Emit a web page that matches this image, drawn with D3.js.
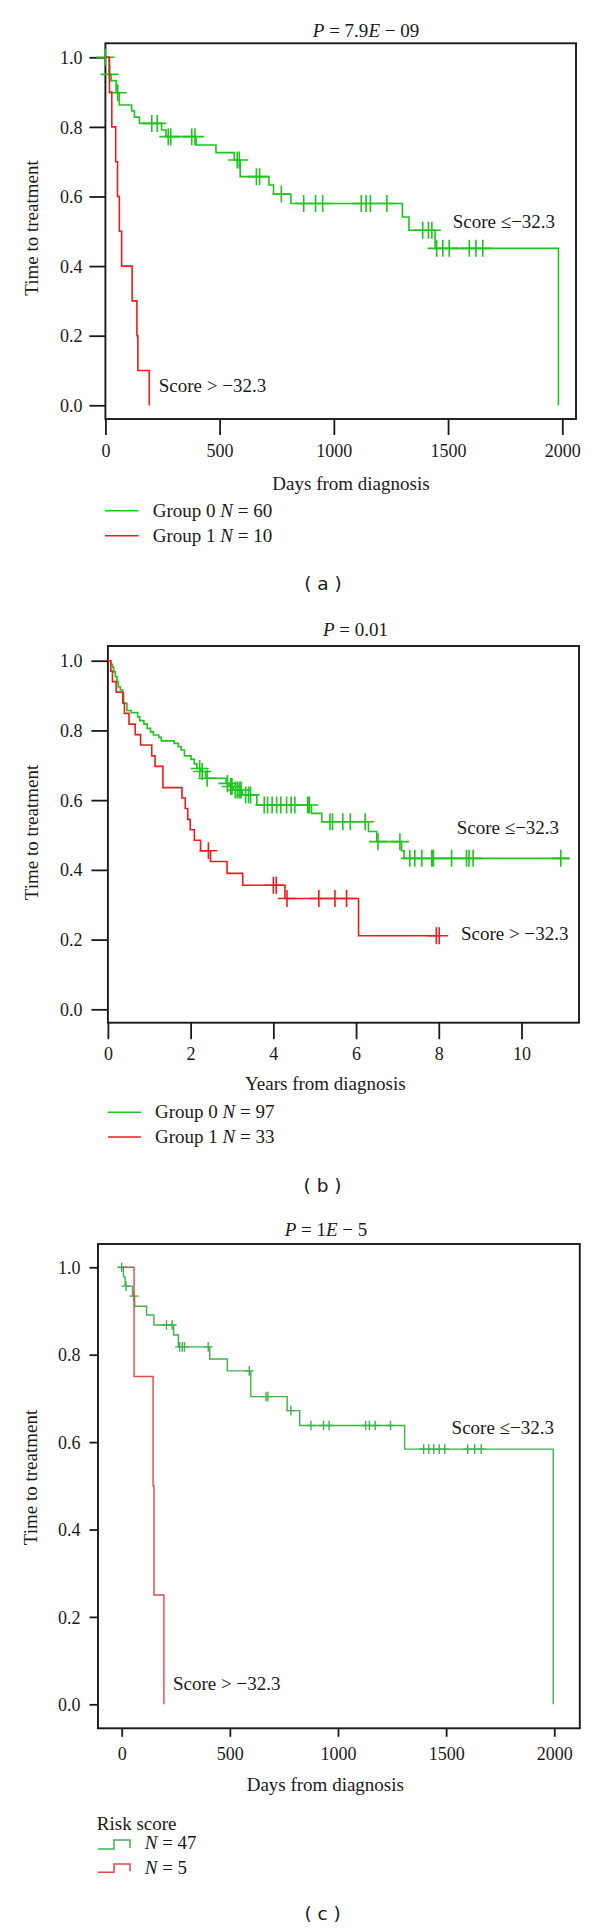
<!DOCTYPE html>
<html><head><meta charset="utf-8">
<script src="https://cdn.jsdelivr.net/npm/d3@7"></script>
<style>body{margin:0;background:#fff}svg{display:block}</style>
</head><body>
<svg id="chart" width="600" height="1930"></svg>
<script>
// ---------------- DATA ----------------
const yTickValues = [0, 0.2, 0.4, 0.6, 0.8, 1.0];
const yTickLabels = ["0.0", "0.2", "0.4", "0.6", "0.8", "1.0"];

// Panel (a)
const aTitle = ["P", " = 7.9", "E", " \u2212 09"];
const aXTicks = [0, 500, 1000, 1500, 2000];
const aXLabel = "Days from diagnosis";
const aGreenTimes = [0, 16, 25, 47, 61, 115, 127, 149, 246, 265, 397, 484, 564, 590, 716, 736, 812, 1300, 1329, 1443, 1983];
const aGreenSurv  = [1, 0.951, 0.933, 0.898, 0.863, 0.846, 0.828, 0.81, 0.791, 0.772, 0.748, 0.726, 0.705, 0.657, 0.633, 0.607, 0.58, 0.541, 0.503, 0.451, 0];
const aGreenCensor = [0, 18, 54, 203, 227, 275, 286, 378, 392, 577, 586, 661, 675, 770, 868, 920, 951, 1120, 1141, 1160, 1232, 1389, 1414, 1429, 1450, 1477, 1505, 1593, 1622, 1652];
const aRedTimes = [0, 18, 28, 45, 53, 61, 71, 117, 138, 142, 192];
const aRedSurv  = [1, 0.9, 0.8, 0.7, 0.6, 0.5, 0.4, 0.3, 0.2, 0.1, 0];
const aLegend = [["Group 0 ", "N", " = 60"], ["Group 1 ", "N", " = 10"]];

// Panel (b)
const bTitle = ["P", " = 0.01"];
const bXTicks = [0, 2, 4, 6, 8, 10];
const bXLabel = "Years from diagnosis";
const bGreenTimes = [0, 0.07, 0.11, 0.14, 0.18, 0.22, 0.25, 0.30, 0.36, 0.38, 0.46, 0.56, 0.72, 0.77, 0.87, 0.95, 1.03, 1.10, 1.23, 1.29, 1.60, 1.70, 1.77, 1.85, 2.01, 2.09, 2.15, 2.25, 2.36, 2.86, 2.93, 3.03, 3.25, 3.60, 4.92, 5.17, 6.30, 6.50, 7.10, 7.16, 11.15];
const bGreenSurv  = [1, 0.990, 0.981, 0.968, 0.954, 0.940, 0.925, 0.916, 0.906, 0.878, 0.857, 0.851, 0.839, 0.828, 0.818, 0.806, 0.796, 0.787, 0.780, 0.770, 0.763, 0.753, 0.744, 0.727, 0.717, 0.704, 0.691, 0.682, 0.663, 0.648, 0.639, 0.629, 0.615, 0.586, 0.562, 0.538, 0.510, 0.481, 0.455, 0.433, 0.433];
const bGreenCensor = [2.22, 2.28, 2.40, 2.89, 2.97, 3.00, 3.08, 3.13, 3.18, 3.22, 3.33, 3.40, 3.45, 3.78, 3.86, 3.97, 4.08, 4.18, 4.32, 4.43, 4.52, 4.83, 4.87, 5.37, 5.43, 5.68, 5.86, 6.22, 6.53, 7.06, 7.30, 7.42, 7.59, 7.83, 7.87, 8.31, 8.67, 8.73, 8.83, 10.95];
const bRedTimes = [0, 0.07, 0.11, 0.2, 0.36, 0.4, 0.51, 0.66, 0.79, 1.06, 1.14, 1.33, 1.79, 1.87, 1.93, 1.99, 2.09, 2.24, 2.48, 2.88, 3.26, 4.28, 6.06, 8.02];
const bRedSurv  = [1, 0.97, 0.94, 0.91, 0.879, 0.849, 0.818, 0.788, 0.758, 0.727, 0.697, 0.636, 0.606, 0.576, 0.545, 0.515, 0.485, 0.455, 0.424, 0.39, 0.356, 0.318, 0.211, 0.211];
const bRedCensor = [2.43, 4.0, 4.07, 4.33, 5.1, 5.49, 5.77, 7.94, 8.01];
const bLegend = [["Group 0 ", "N", " = 97"], ["Group 1 ", "N", " = 33"]];

// Panel (c)
const cTitle = ["P", " = 1", "E", " \u2212 5"];
const cXTicks = [0, 500, 1000, 1500, 2000];
const cXLabel = "Days from diagnosis";
const cGreenTimes = [0, 8, 16, 50, 60, 115, 149, 240, 262, 407, 488, 597, 765, 823, 1308, 1995];
const cGreenSurv  = [1, 0.978, 0.957, 0.934, 0.911, 0.891, 0.868, 0.845, 0.818, 0.79, 0.763, 0.704, 0.672, 0.638, 0.584, 0];
const cGreenCensor = [0, 20, 57, 207, 233, 268, 280, 290, 400, 590, 667, 676, 782, 875, 933, 959, 1128, 1145, 1172, 1243, 1396, 1420, 1443, 1468, 1494, 1600, 1632, 1662];
const cRedTimes = [0, 57, 145, 149, 195];
const cRedSurv  = [1, 0.75, 0.5, 0.25, 0];
const cLegendTitle = "Risk score";
const cLegend = [["N", " = 47"], ["N", " = 5"]];

const groupLabels = ["Score \u2264\u221232.3", "Score > \u221232.3"];
const yLabel = "Time to treatment";

// ---------------- LAYOUT / STYLE ----------------
const SERIF = "'Liberation Serif','Times New Roman',serif";
const SANS = "'DejaVu Sans',sans-serif";
const INK = "#1a1a1a";

const svg = d3.select("#chart");

function kmAt(times, surv, t) {
  let v = surv[0];
  for (let i = 0; i < times.length; i++) if (times[i] <= t) v = surv[i];
  return v;
}

function richText(g, parts, attrs) {
  const t = g.append("text");
  Object.entries(attrs).forEach(([k, v]) => t.attr(k, v));
  parts.forEach(p => {
    const isItalic = (p === "P" || p === "E" || p === "N");
    t.append("tspan").text(p).attr("font-style", isItalic ? "italic" : "normal");
  });
  return t;
}

function panel(cfg) {
  const g = svg.append("g");
  const x = d3.scaleLinear().domain(cfg.xDomain).range([cfg.box.l, cfg.box.r]);
  const y = d3.scaleLinear().domain(cfg.yDomain).range([cfg.box.b, cfg.box.t]);

  const xAxis = d3.axisBottom(x).tickValues(cfg.xTicks).tickSize(cfg.tick).tickFormat(d3.format("d"));
  const gx = g.append("g").attr("transform", `translate(0,${cfg.box.b})`).call(xAxis);
  gx.select(".domain").remove();
  gx.selectAll(".tick line").attr("stroke", INK).attr("stroke-width", 1.8);
  gx.selectAll(".tick text").attr("font-family", SERIF).attr("font-size", cfg.fsTick).attr("fill", INK)
    .attr("y", cfg.xLabBase - cfg.box.b).attr("dy", null);

  const yAxis = d3.axisLeft(y).tickValues(yTickValues).tickSize(cfg.tick).tickFormat((d, i) => yTickLabels[i]);
  const gy = g.append("g").attr("transform", `translate(${cfg.box.l},0)`).call(yAxis);
  gy.select(".domain").remove();
  gy.selectAll(".tick line").attr("stroke", INK).attr("stroke-width", 1.8);
  gy.selectAll(".tick text").attr("font-family", SERIF).attr("font-size", cfg.fsTick).attr("fill", INK)
    .attr("x", cfg.yLabRight - cfg.box.l).attr("dy", "0.34em");

  g.append("rect").attr("x", cfg.box.l).attr("y", cfg.box.t)
    .attr("width", cfg.box.r - cfg.box.l).attr("height", cfg.box.b - cfg.box.t)
    .attr("fill", "none").attr("stroke", INK).attr("stroke-width", 1.9);

  const line = d3.line().x(d => x(d[0])).y(d => y(d[1])).curve(d3.curveStepAfter);

  cfg.series.forEach(s => {
    const pts = s.times.map((t, i) => [t, s.surv[i]]);
    g.append("path").attr("d", line(pts)).attr("fill", "none")
      .attr("stroke", s.color).attr("stroke-width", cfg.lw);
    const cens = s.censor.map(t => [t, kmAt(s.times, s.surv, t)]);
    g.append("path").attr("fill", "none").attr("stroke", s.color).attr("stroke-width", cfg.lw)
      .attr("d", cens.map(([t, v]) => {
        const px = x(t), py = y(v);
        return `M${px - cfg.ch},${py}H${px + cfg.ch}M${px},${py - cfg.cv}V${py + cfg.cv}`;
      }).join(""));
  });

  richText(g, cfg.title, {x: cfg.titleX, y: cfg.titleY, "text-anchor": "middle",
    "font-family": SERIF, "font-size": cfg.fsLab, fill: INK});
  g.append("text").text(cfg.xLabel).attr("x", cfg.xTitleX).attr("y", cfg.xTitleY)
    .attr("text-anchor", "middle").attr("font-family", SERIF).attr("font-size", cfg.fsLab).attr("fill", INK);
  g.append("text").text(yLabel).attr("transform", `translate(${cfg.yTitleX},${cfg.yTitleY}) rotate(-90)`)
    .attr("text-anchor", "middle").attr("dominant-baseline", "central")
    .attr("font-family", SERIF).attr("font-size", cfg.fsLab).attr("fill", INK);
  cfg.annot.forEach((a, i) => {
    g.append("text").text(groupLabels[i]).attr("x", a[0]).attr("y", a[1])
      .attr("font-family", SERIF).attr("font-size", cfg.fsLab).attr("fill", INK);
  });
  g.append("text").text(cfg.letter).attr("x", cfg.letterX).attr("y", cfg.letterY)
    .attr("text-anchor", "middle").attr("font-family", SANS).attr("font-size", 18.5).attr("fill", INK)
    .attr("xml:space", "preserve").style("white-space", "pre");
  return g;
}

function lineLegend(g, items, colors, lx0, lx1, ys, tx, dyText, fs) {
  items.forEach((it, i) => {
    g.append("line").attr("x1", lx0).attr("x2", lx1).attr("y1", ys[i]).attr("y2", ys[i])
      .attr("stroke", colors[i]).attr("stroke-width", 1.6);
    richText(g, it, {x: tx, y: ys[i] + dyText, "font-family": SERIF, "font-size": fs, fill: INK});
  });
}

const GREEN = "#1fc41f", RED = "#ee1c1c";
const GREEN_C = "#3fb24e", RED_C = "#e04a4a";

const pa = panel({
  box: {l: 105.4, r: 576, t: 43.3, b: 419},
  xDomain: [0, 2060], yDomain: [-0.0394, 1.0402],
  xTicks: aXTicks, tick: 16, xLabBase: 457, yLabRight: 82.5,
  fsTick: 18, fsLab: 19, lw: 1.6, ch: 9, cv: 8.5,
  series: [
    {times: aGreenTimes, surv: aGreenSurv, censor: aGreenCensor, color: GREEN},
    {times: aRedTimes, surv: aRedSurv, censor: [], color: RED}
  ],
  title: aTitle, titleX: 366, titleY: 36.5,
  xLabel: aXLabel, xTitleX: 351, xTitleY: 490,
  yTitleX: 31, yTitleY: 228,
  annot: [[452.7, 228.3], [158.8, 391.7]],
  letter: "( a )", letterX: 323, letterY: 590
});
lineLegend(pa, aLegend, [GREEN, RED], 105, 138.5, [510.7, 535.7], 152.7, 6, 19);

const pb = panel({
  box: {l: 107.9, r: 579, t: 646, b: 1022.7},
  xDomain: [0, 11.39], yDomain: [-0.0384, 1.0422],
  xTicks: bXTicks, tick: 16.5, xLabBase: 1060, yLabRight: 82.5,
  fsTick: 18, fsLab: 19, lw: 1.6, ch: 9, cv: 8.5,
  series: [
    {times: bGreenTimes, surv: bGreenSurv, censor: bGreenCensor, color: GREEN},
    {times: bRedTimes, surv: bRedSurv, censor: bRedCensor, color: RED}
  ],
  title: bTitle, titleX: 355.5, titleY: 636,
  xLabel: bXLabel, xTitleX: 325.3, xTitleY: 1090,
  yTitleX: 31, yTitleY: 832.5,
  annot: [[456.7, 834], [461, 940]],
  letter: "( b )", letterX: 322.6, letterY: 1192
});
lineLegend(pb, bLegend, [GREEN, RED], 108, 141, [1112.3, 1137], 155, 5.7, 19);

const pc = panel({
  box: {l: 98, r: 579.8, t: 1244, b: 1728.3},
  xDomain: [-109.6, 2118], yDomain: [-0.0549, 1.0533],
  xTicks: cXTicks, tick: 8.5, xLabBase: 1760, yLabRight: 80.4,
  fsTick: 18, fsLab: 19, lw: 1.4, ch: 4.5, cv: 4.8,
  series: [
    {times: cGreenTimes, surv: cGreenSurv, censor: cGreenCensor, color: GREEN_C},
    {times: cRedTimes, surv: cRedSurv, censor: [], color: RED_C}
  ],
  title: cTitle, titleX: 326, titleY: 1236,
  xLabel: cXLabel, xTitleX: 325.3, xTitleY: 1791,
  yTitleX: 30.6, yTitleY: 1477.5,
  annot: [[451.6, 1434.3], [173, 1690]],
  letter: "( c )", letterX: 322.6, letterY: 1920
});
pc.append("text").text(cLegendTitle).attr("x", 96.8).attr("y", 1830)
  .attr("font-family", SERIF).attr("font-size", 19).attr("fill", INK);
[[1849, 1840, GREEN_C, 1848.5], [1872.3, 1864, RED_C, 1873.5]].forEach((r, i) => {
  const [lo, hi, col, base] = r;
  pc.append("path").attr("fill", "none").attr("stroke", col).attr("stroke-width", 1.5)
    .attr("d", `M98,${lo}H114V${hi}H130V${lo - 1}`);
  richText(pc, cLegend[i], {x: 144.7, y: base, "font-family": SERIF, "font-size": 19, fill: INK});
});
</script>
</body></html>
